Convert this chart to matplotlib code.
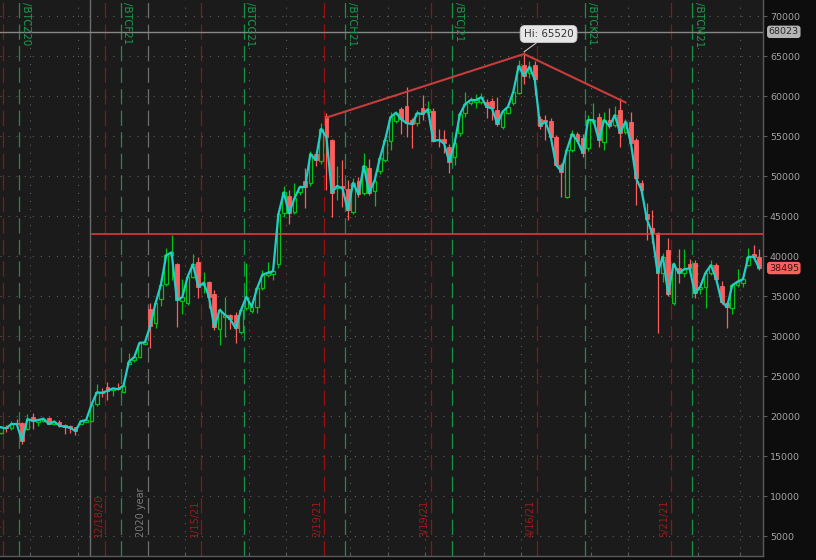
import matplotlib
matplotlib.use("Agg")
import matplotlib.pyplot as plt
import matplotlib.transforms as mtransforms

plt.rcParams['lines.scale_dashes'] = False

# ---------------- data (daily bars, index 0 = 11/20/20) ----------------
opens = [17900, 18650, 18450, 19100, 19150, 18350, 19900, 19250, 19400, 19750,
         19050, 19300, 18850, 18750, 18600, 19050, 19300, 19400, 21450, 23050,
         23600, 23200, 23500, 23050, 26550, 27000, 27350, 28950, 33400, 31600,
         34600, 36450, 40100, 39000, 34400, 34100, 37400, 39250, 36350, 36750,
         35250, 30900, 32400, 32600, 32600, 30550, 33450, 33150, 33650, 35950,
         37650, 37750, 38950, 45350, 47500, 45550, 47950, 49400, 49150, 52750,
         51900, 57500, 54500, 48450, 48750, 48350, 45450, 49400, 47900, 50950,
         48100, 50650, 51950, 54400, 56900, 58350, 58750, 57000, 56600, 58500,
         57950, 58150, 54600, 54600, 53600, 52400, 55350, 57850, 59150, 59300,
         59300, 59300, 59400, 58250, 56150, 57900, 59100, 60400, 63850, 62850,
         63850, 57100, 57000, 56900, 54900, 51400, 47400, 53300, 55250, 54700,
         53450, 56800, 57400, 54300, 57000, 56400, 58250, 55550, 56800, 54500,
         49150, 45250, 43450, 42850, 37900, 40750, 34150, 38450, 37850, 39000,
         39100, 35850, 36150, 37900, 38850, 36250, 34100, 33450, 36350, 36650,
         38900, 40250, 39900]
highs = [18700, 18900, 19400, 19600, 19300, 20250, 20350, 19600, 19900, 19850,
         19450, 19500, 19000, 18900, 18650, 19500, 19700, 21500, 23950, 23450,
         24200, 23550, 24150, 23900, 27850, 27500, 29300, 29700, 34150, 34700,
         37200, 40950, 42600, 39100, 37100, 37600, 40300, 39900, 38050, 36900,
         35750, 33450, 34900, 32800, 33050, 33400, 39100, 34200, 36300, 38250,
         39300, 38200, 45400, 48750, 48200, 49100, 48900, 50950, 53150, 53150,
         56600, 57850, 54600, 51250, 52000, 49500, 49800, 49900, 52900, 52100,
         50350, 52600, 54900, 58050, 58150, 58650, 61150, 57300, 58300, 60150,
         59400, 58500, 55850, 55750, 54000, 54500, 58000, 60550, 59850, 60250,
         60350, 59600, 59700, 59850, 58300, 59100, 61000, 64500, 65520, 64400,
         64400, 57500, 57600, 57200, 55100, 51600, 53500, 55700, 55500, 55200,
         57600, 59150, 57850, 58050, 58550, 58750, 59700, 57100, 58050, 54700,
         49500, 46600, 45750, 43000, 40350, 42200, 39300, 40900, 40850, 39600,
         39500, 36600, 38250, 39500, 39100, 36900, 34400, 36500, 38350, 37200,
         40950, 41400, 40850]
lows = [17700, 18050, 18300, 18900, 16500, 18250, 18350, 18700, 19300, 18950,
        18900, 18650, 17750, 17900, 17600, 18950, 19200, 19300, 21300, 22400,
        22000, 22500, 23200, 22900, 26500, 26700, 27200, 28900, 28450, 31000,
        33750, 36200, 37000, 31100, 32750, 33900, 37200, 34700, 35350, 33450,
        30750, 28900, 29900, 30900, 29100, 30300, 33300, 32900, 32850, 35700,
        37400, 37000, 38450, 44900, 44000, 45200, 47600, 45950, 48800, 51250,
        51500, 48250, 44900, 47000, 46150, 44500, 45200, 47400, 47600, 47600,
        46250, 50300, 51700, 53250, 56600, 55250, 54850, 53450, 56300, 57000,
        57500, 54300, 53650, 52900, 50350, 51350, 55000, 57400, 58900, 58450,
        59000, 57200, 57000, 56300, 55900, 57700, 58900, 60200, 61500, 62300,
        60100, 55900, 54500, 54500, 51300, 47400, 47300, 53000, 54100, 52350,
        53100, 56500, 53600, 53250, 55950, 56100, 53650, 55200, 53900, 46350,
        47800, 42000, 41600, 30350, 36800, 35000, 33900, 36600, 37400, 37900,
        34800, 35300, 33500, 37600, 36700, 34000, 30950, 32800, 36100, 36150,
        38700, 39600, 38200]
closes = [18600, 18450, 19000, 19000, 16900, 19600, 19400, 19500, 19650, 19000,
          19300, 18800, 18650, 18550, 18100, 19350, 19500, 21400, 22950, 22900,
          23150, 23450, 23350, 23800, 26800, 27350, 29150, 29200, 31250, 34100,
          36400, 40100, 40450, 34500, 34850, 37400, 38950, 36150, 36650, 34900,
          31100, 33250, 32650, 32100, 30950, 33250, 34900, 33650, 35950, 37650,
          37900, 38100, 45200, 47950, 45350, 47200, 48600, 48650, 52750, 52000,
          55900, 54850, 47900, 48750, 48450, 45750, 49150, 47700, 51250, 47900,
          49400, 52200, 54550, 57350, 57900, 57100, 56600, 56500, 57850, 57750,
          58350, 54400, 54500, 54100, 51800, 54100, 57750, 59000, 59500, 59500,
          59850, 58650, 58450, 56500, 58050, 58650, 60550, 63750, 62500, 63650,
          62100, 56250, 56800, 54900, 51400, 50550, 53250, 55250, 54400, 52900,
          57000, 57000, 54500, 57000, 56250, 57600, 55400, 56800, 54150, 49700,
          48250, 44600, 42850, 37900, 39900, 35200, 39000, 37850, 38350, 38450,
          35350, 36150, 37900, 38850, 37100, 34300, 33600, 36350, 36800, 37100,
          39900, 39900, 38495]

y_ticks = list(range(5000, 70001, 5000))
expiry_labels = ["11/20/20", "12/18/20", "1/15/21", "2/19/21", "3/19/21", "4/16/21", "5/21/21"]
expiry_pos = [0.5, 19.5, 37.5, 60.5, 80.5, 100.5, 125.5]
contract_labels = ["/BTCZ20", "/BTCF21", "/BTCG21", "/BTCH21", "/BTCJ21", "/BTCK21", "/BTCM21"]
contract_pos = [3.5, 22.5, 45.5, 64.5, 84.5, 109.5, 129.5]
year_label = "2020 year"
year_pos = 27.5
grid_pos = [5.5, 14.5, 34.5, 46.5, 53.5, 65.5, 72.5, 79.5, 90.5, 97.5, 110.5, 117.5, 130.5, 138.5]
support_level = 42700
support_start = 17.15
trend_x = [61, 98, 117]
trend_y = [57300, 65250, 59200]
hi_value = 65520
hi_index = 98
cross_x = 16.78
cross_value = 68023
last_value = 38495

# ---------------- figure ----------------
BG = '#1b1b1b'
fig = plt.figure(figsize=(8.16, 5.6), dpi=100)
fig.patch.set_facecolor('#0d0d0d')
ax = fig.add_axes([0, 4 / 560, 763 / 816, 556 / 560])
ax.set_facecolor(BG)
ax.set_xlim(-0.13, 142.75)
ax.set_ylim(2500, 72000)

for s in ['left', 'top']:
    ax.spines[s].set_visible(False)
for s in ['right', 'bottom']:
    ax.spines[s].set_color('#5a5a5a')
    ax.spines[s].set_linewidth(1.0)

ax.yaxis.tick_right()
ax.set_yticks(y_ticks)
ax.set_yticklabels([str(v) for v in y_ticks])
ax.tick_params(axis='y', colors='#5a5a5a', labelcolor='#a4a4a4', labelsize=6.8,
               length=3, width=0.8, pad=2, direction='out')
ax.set_xticks(grid_pos)
ax.set_xticklabels([])
ax.tick_params(axis='x', colors='#5a5a5a', length=3, width=0.8, direction='in')

# dotted grid
for v in y_ticks:
    ax.axhline(v, color='#5e5e5e', lw=0.8, ls=(0, (0.8, 5.0)), zorder=0.5)
for p in grid_pos:
    ax.axvline(p, color='#5e5e5e', lw=0.8, ls=(0, (0.8, 5.0)), zorder=0.5)

# event lines
for p in expiry_pos:
    ax.axvline(p, color='#9a1010', lw=0.9, ls=(0, (11, 4.5)), zorder=1)
for p in contract_pos:
    ax.axvline(p, color='#159345', lw=0.9, ls=(0, (11, 4.5)), zorder=1)
ax.axvline(year_pos, color='#6e6e6e', lw=0.9, ls=(0, (11, 4.5)), zorder=1)

# crosshair
ax.axvline(cross_x, color='#6c6c6c', lw=1.0, zorder=1.2)
ax.axhline(cross_value, color='#878787', lw=1.0, zorder=1.2)

# labels
trans_xa = mtransforms.blended_transform_factory(ax.transData, ax.transAxes)
for lab, p in zip(contract_labels, contract_pos):
    ax.text(p + 0.3, 0.996, lab, rotation=270, ha='left', va='top', color='#1a9c4c',
            fontsize=7.4, transform=trans_xa, clip_on=True, zorder=2)
for lab, p in zip(expiry_labels, expiry_pos):
    ax.text(p - 0.25, 0.034, lab, rotation=90, ha='right', va='bottom', color='#9c1c1c',
            fontsize=7, transform=trans_xa, clip_on=True, zorder=2)
ax.text(year_pos - 0.3, 0.034, year_label, rotation=90, ha='right', va='bottom', color='#7c7c7c',
        fontsize=7, transform=trans_xa, clip_on=True, zorder=2)

# candles
GREEN = '#00c21a'
RED = '#ff5e5e'
n = len(closes)
for i in range(n):
    o, h, l, c = opens[i], highs[i], lows[i], closes[i]
    col = GREEN if c >= o else RED
    ax.vlines(i, l, h, color=col, lw=0.9, zorder=3)
    if c >= o:
        ax.bar(i, max(c - o, 60), bottom=o, width=0.68, facecolor=BG, edgecolor=col,
               linewidth=0.9, zorder=3.2)
    else:
        ax.bar(i, o - c, bottom=c, width=0.72, facecolor=col, edgecolor=col,
               linewidth=0.6, zorder=3.2)

# close line
ax.plot(range(n), closes, color='#22cfc6', lw=1.6, zorder=5, solid_joinstyle='round')

# support line and trend lines
ax.plot([support_start, 142.75], [support_level, support_level], color='#e8403c', lw=1.1, zorder=4)
ax.plot(trend_x, trend_y, color='#c83c3c', lw=1.5, zorder=4.5)

# high bubble
ax.annotate(f"Hi: {hi_value}", xy=(hi_index, hi_value), xytext=(102.6, 67750),
            ha='center', va='center', fontsize=7.4, color='#333333',
            bbox=dict(boxstyle='round,pad=0.35,rounding_size=0.5', fc='#e6e6e6', ec='#c8c8c8', lw=0.6),
            arrowprops=dict(arrowstyle='-', color='#c8c8c8', lw=0.8, shrinkA=0, shrinkB=0),
            zorder=6)

# price boxes on the right axis
trans_ay = mtransforms.blended_transform_factory(ax.transAxes, ax.transData)
ax.text(1.0075, cross_value, f"{cross_value}", transform=trans_ay, ha='left', va='center',
        fontsize=6.8, color='#2a2a2a', clip_on=False,
        bbox=dict(boxstyle='round,pad=0.18,rounding_size=0.3', fc='#b4b4b4', ec='none'))
ax.text(1.0075, last_value, f"{last_value}", transform=trans_ay, ha='left', va='center',
        fontsize=6.8, color='#3a1010', clip_on=False,
        bbox=dict(boxstyle='round,pad=0.18,rounding_size=0.3', fc='#ff5f5f', ec='none'))

fig.savefig("out.png", dpi=100, facecolor=fig.get_facecolor())
